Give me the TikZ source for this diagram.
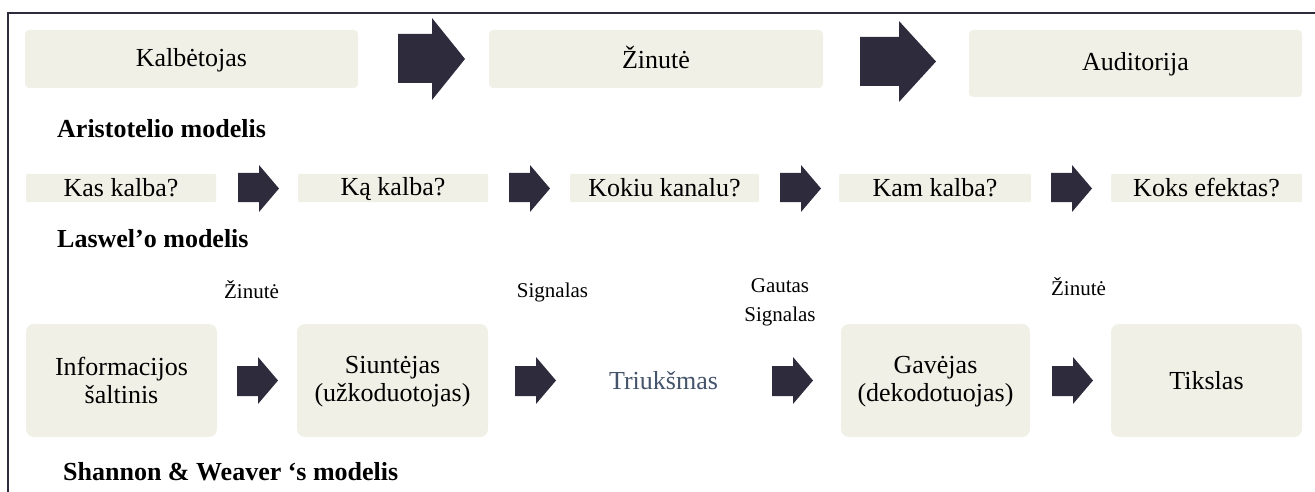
\documentclass[tikz,border=0pt]{standalone}
\usepackage{fontspec}
\setmainfont{Liberation Serif}
\definecolor{boxfill}{HTML}{F0F0E6}
\definecolor{arrowc}{HTML}{2E2B3D}
\definecolor{noisec}{HTML}{44546A}
\newcommand\mystrut{\rule[-3pt]{0pt}{23pt}}
\newcommand\labstrut{\rule[-2pt]{0pt}{18pt}}
% block arrow: left, head base, tip, shaft top, shaft bottom, head top, head bottom
\newcommand\barrow[7]{\fill[arrowc] (#1,#4) -- (#2,#4) -- (#2,#6) -- (#3,{(#6+#7)/2}) -- (#2,#7) -- (#2,#5) -- (#1,#5) -- cycle;}
\begin{document}
\begin{tikzpicture}[x=1pt,y=-1pt,
  box/.style={fill=boxfill, draw=none, inner sep=0pt, align=center, font=\fontsize{26}{28}\selectfont},
  rowone/.style={box, rounded corners=4pt, minimum height=58pt},
  rowtwo/.style={box, rounded corners=1pt, minimum height=28pt},
  rowthree/.style={box, rounded corners=8pt, minimum height=113pt},
  heading/.style={font=\fontsize{26}{28}\selectfont\bfseries, anchor=base west, inner sep=0pt},
  lab/.style={font=\fontsize{21}{29}\selectfont, inner sep=0pt, align=center},
  frame/.style={draw=arrowc, line width=2.3pt}
]
\useasboundingbox (0,0) rectangle (1315,492);
\draw[frame] (8.3,492) -- (8.3,12.7) -- (1315,12.7);

% Aristotle
\node[rowone, minimum width=333pt] (spk) at (191.5,59) {\mystrut Kalbėtojas};
\node[rowone, minimum width=334pt] (msg) at (656,59) {\mystrut Žinutė};
\node[rowone, minimum width=333pt, minimum height=67pt] (aud) at (1135.5,63.5) {\mystrut Auditorija};
\barrow{398}{432}{465}{34}{83}{18}{100}
\barrow{860}{899}{936}{37}{86}{21}{102}
\node[heading] (h1) at (57,138) {Aristotelio modelis};

% Lasswell
\node[rowtwo, minimum width=190pt] (q1) at (121,188) {\mystrut Kas kalba?};
\node[rowtwo, minimum width=190pt] (q2) at (393,188) {\mystrut Ką kalba?};
\node[rowtwo, minimum width=189pt] (q3) at (664.5,188) {\mystrut Kokiu kanalu?};
\node[rowtwo, minimum width=192pt] (q4) at (935,188) {\mystrut Kam kalba?};
\node[rowtwo, minimum width=191pt] (q5) at (1206.5,188) {\mystrut Koks efektas?};
\barrow{238}{259}{279}{173}{202}{165}{212}
\barrow{509}{530}{550}{173}{202}{165}{212}
\barrow{780}{801}{821}{173}{202}{165}{212}
\barrow{1051}{1072}{1092}{173}{202}{165}{212}
\node[heading] (h2) at (57,247) {Laswel’o modelis};

% Shannon & Weaver
\node[rowthree, minimum width=191pt] (src) at (121.5,380.5) {\mystrut Informacijos\\\mystrut šaltinis};
\node[rowthree, minimum width=191pt] (snd) at (392.5,380.5) {\mystrut Siuntėjas\\\mystrut (užkoduotojas)};
\node[font=\fontsize{26}{28}\selectfont, text=noisec, inner sep=0pt] (noise) at (663.5,380.5) {\mystrut Triukšmas};
\node[rowthree, minimum width=189pt] (rcv) at (935.5,380.5) {\mystrut Gavėjas\\\mystrut (dekodotuojas)};
\node[rowthree, minimum width=191pt] (dst) at (1206.5,380.5) {\mystrut Tikslas};
\barrow{237}{258}{278}{366}{396}{357}{404}
\barrow{515}{536}{556}{366}{396}{357}{404}
\barrow{772}{793}{813}{366}{396}{357}{404}
\barrow{1052}{1073}{1093}{366}{396}{357}{404}
\node[lab, anchor=base] (l1) at (251.5,298) {Žinutė};
\node[lab, anchor=base] (l2) at (552.5,297) {Signalas};
\node[lab] (l3) at (780,301.5) {\labstrut Gautas\\\labstrut Signalas};
\node[lab, anchor=base] (l4) at (1078.5,295) {Žinutė};
\node[heading] (h3) at (63,480) {Shannon \& Weaver ‘s modelis};
\end{tikzpicture}
\end{document}
